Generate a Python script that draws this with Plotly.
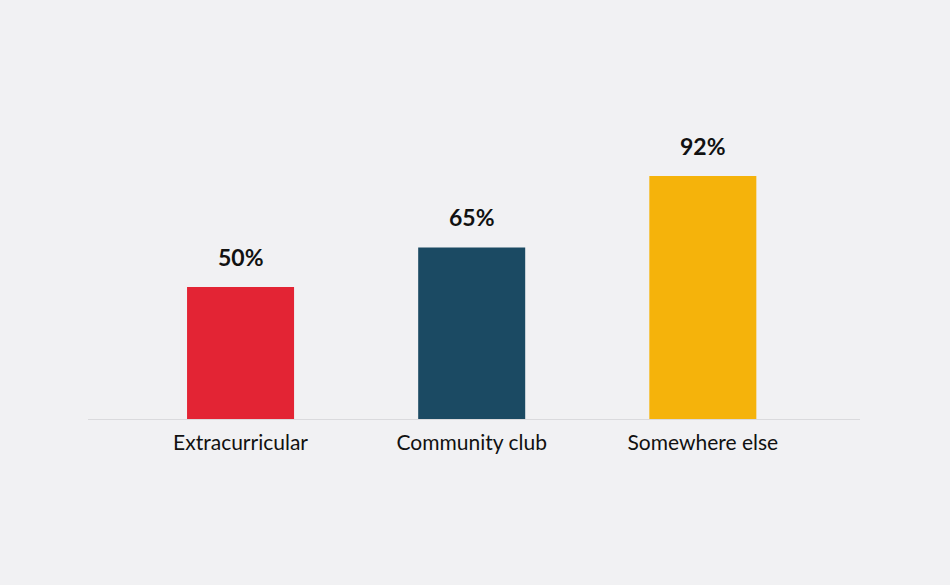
import plotly.graph_objects as go

# survey categories and share of respondents
categories = ["Extracurricular", "Community club", "Somewhere else"]
values = [50, 65, 92]
value_labels = ["50%", "65%", "92%"]
bar_colors = ["#E32434", "#1B4A63", "#F5B30B"]

BG = "#F1F1F3"
FONT = "Lato"

fig = go.Figure(
    go.Bar(
        x=categories,
        y=values,
        marker=dict(color=bar_colors, line=dict(width=0)),
        width=0.463,
        hoverinfo="skip",
    )
)

# value labels sit a bit above each bar
for cat, val, lab in zip(categories, values, value_labels):
    fig.add_annotation(
        x=cat, y=val, text=f"<b>{lab}</b>",
        showarrow=False, yanchor="bottom", yshift=14,
        font=dict(family=FONT, size=23, color="#111111"),
    )

fig.update_layout(
    width=950,
    height=585,
    paper_bgcolor=BG,
    plot_bgcolor=BG,
    margin=dict(l=88, r=90, t=127, b=166),
    showlegend=False,
    font=dict(family=FONT, size=21, color="#111111"),
)
fig.update_xaxes(
    range=[-0.66, 2.68],
    showline=True, linecolor="#DADADD", linewidth=1,
    showgrid=False, zeroline=False, ticks="",
    ticklabelstandoff=5,
    tickfont=dict(family=FONT, size=21, color="#111111"),
)
fig.update_yaxes(range=[0, 110.6], visible=False, showgrid=False, zeroline=False)

# drop the page margin so the figure fills the window
fig.write_html(
    "out.html",
    config={"displayModeBar": False},
    post_script="document.body.style.margin='0';document.body.style.background='#F1F1F3';",
)
